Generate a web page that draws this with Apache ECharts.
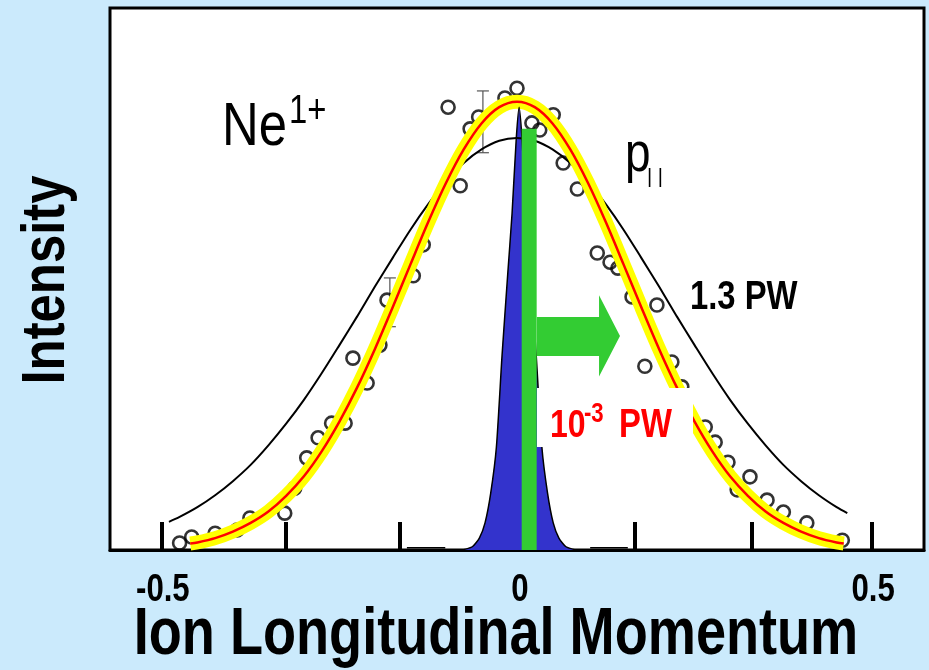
<!DOCTYPE html>
<html>
<head>
<meta charset="utf-8">
<script src="https://cdn.jsdelivr.net/npm/echarts@6/dist/echarts.min.js"></script>
<style>
  html, body { margin: 0; padding: 0; background: #cbeafc; }
  #chart { width: 929px; height: 670px; }
</style>
</head>
<body>
<div id="chart"></div>
<script>
// 1.3 PW curve (thin black)
const highX = [-0.49, -0.475, -0.45, -0.425, -0.4, -0.375, -0.35, -0.325, -0.3, -0.275, -0.25, -0.225, -0.2, -0.175, -0.15, -0.125, -0.1, -0.075, -0.05, -0.025, 0,
  0.025, 0.05, 0.075, 0.1, 0.125, 0.15, 0.175, 0.2, 0.225, 0.25, 0.275, 0.3, 0.325, 0.35, 0.375, 0.4, 0.425, 0.45, 0.465]
const highY = [0.052, 0.061, 0.079, 0.101, 0.127, 0.157, 0.193, 0.233, 0.277, 0.326, 0.378, 0.431, 0.486, 0.539, 0.591, 0.638, 0.680, 0.714, 0.739, 0.755, 0.760,
  0.755, 0.739, 0.714, 0.680, 0.638, 0.591, 0.539, 0.486, 0.431, 0.378, 0.326, 0.277, 0.233, 0.193, 0.157, 0.127, 0.101, 0.079, 0.068]

// 10^-3 PW curve (yellow band with red line)
const lowX = [-0.46, -0.45, -0.425, -0.4, -0.375, -0.35, -0.325, -0.3, -0.275, -0.25, -0.225, -0.2, -0.175, -0.15, -0.125, -0.1, -0.075, -0.05, -0.025, 0,
  0.025, 0.05, 0.075, 0.1, 0.125, 0.15, 0.175, 0.2, 0.225, 0.25, 0.275, 0.3, 0.325, 0.35, 0.375, 0.4, 0.425, 0.45, 0.46]
const lowY = [0.012, 0.014, 0.022, 0.034, 0.050, 0.071, 0.100, 0.136, 0.182, 0.237, 0.300, 0.371, 0.448, 0.527, 0.605, 0.677, 0.739, 0.787, 0.817, 0.827,
  0.817, 0.787, 0.739, 0.677, 0.605, 0.527, 0.448, 0.371, 0.300, 0.237, 0.182, 0.136, 0.100, 0.071, 0.050, 0.034, 0.022, 0.014, 0.012]

// narrow blue peak
const peakX = [-0.077, -0.063, -0.053, -0.045, -0.037, -0.029, -0.021, -0.013, -0.007, -0.001, 0.003, 0.007, 0.013, 0.019, 0.027, 0.035, 0.043, 0.051, 0.059, 0.069, 0.083]
const peakY = [0, 0.006, 0.022, 0.05, 0.105, 0.19, 0.36, 0.51, 0.62, 0.76, 0.817, 0.76, 0.62, 0.51, 0.36, 0.19, 0.105, 0.05, 0.022, 0.006, 0]

// measured points (open circles)
const dotX = [-0.475, -0.458, -0.425, -0.394, -0.376, -0.327, -0.313, -0.296, -0.280, -0.261, -0.242, -0.231, -0.211, -0.193, -0.183, -0.146, -0.132,
  -0.097, -0.080, -0.066, -0.054, -0.017, 0.000, 0.021, 0.032, 0.051, 0.065, 0.085, 0.113, 0.131, 0.142, 0.162, 0.180, 0.197, 0.218,
  0.232, 0.265, 0.279, 0.297, 0.310, 0.328, 0.352, 0.375, 0.408, 0.458]
const dotY = [0.013, 0.024, 0.031, 0.037, 0.059, 0.068, 0.114, 0.170, 0.207, 0.234, 0.234, 0.354, 0.308, 0.378, 0.461, 0.506, 0.563,
  0.817, 0.672, 0.777, 0.799, 0.834, 0.852, 0.788, 0.775, 0.803, 0.714, 0.666, 0.548, 0.531, 0.520, 0.467, 0.339, 0.452, 0.347,
  0.301, 0.227, 0.199, 0.162, 0.111, 0.135, 0.092, 0.070, 0.050, 0.018]

// error bars
const errX = [-0.048, -0.179]
const errLow = [0.733, 0.412]
const errHigh = [0.847, 0.502]

// short baseline pieces
const baseFrom = [-0.155, 0.103]
const baseTo = [-0.101, 0.156]

// green bar and arrow (data units)
const barX = [0.0066, 0.0277]
const barTop = 0.777
const arrowX = [0.028, 0.1155, 0.1155, 0.145, 0.1155, 0.1155, 0.028]
const arrowY = [0.430, 0.430, 0.470, 0.395, 0.320, 0.358, 0.358]

const tickValues = [-0.5, -0.325, -0.165, 0, 0.166, 0.33, 0.5]
const labelValues = [-0.5, 0, 0.5]
const tickLabels = ['-0.5', '0', '0.5']

const FONT = '"Liberation Sans", Arial, sans-serif'
const NARROW = 0.82 // the original lettering is a condensed face

const zip = (xs, ys) => xs.map((x, i) => [x, ys[i]])

function label(text, x, y, size, bold, fill, align, rotation) {
  return {
    type: 'text', z: 60, x: x, y: y, scaleX: NARROW, rotation: rotation || 0,
    style: {
      text: text,
      fontFamily: FONT,
      fontSize: size,
      fontWeight: bold ? 'bold' : 'normal',
      fill: fill || '#000',
      align: align || 'left',
      verticalAlign: 'middle'
    }
  }
}

const chart = echarts.init(document.getElementById('chart'))

chart.setOption({
  backgroundColor: '#cbeafc',
  animation: false,
  grid: {
    left: 110, right: 5, top: 8, bottom: 120,
    show: true,
    backgroundColor: '#fff',
    borderColor: '#000',
    borderWidth: 3
  },
  xAxis: {
    type: 'value',
    min: -0.573,
    max: 0.573,
    splitLine: { show: false },
    axisLine: { show: true, lineStyle: { color: '#000', width: 3 } },
    axisTick: {
      show: true, inside: true, length: 28,
      customValues: tickValues,
      lineStyle: { color: '#000', width: 4 }
    },
    axisLabel: { show: false }
  },
  yAxis: {
    type: 'value',
    min: 0,
    max: 1,
    show: false
  },
  series: [
    {
      name: '1.3 PW',
      type: 'line',
      data: zip(highX, highY),
      smooth: 0.3,
      symbol: 'none',
      lineStyle: { color: '#000', width: 2 }
    },
    {
      name: 'data',
      type: 'scatter',
      data: zip(dotX, dotY),
      symbol: 'circle',
      symbolSize: 13,
      itemStyle: { color: 'rgba(0,0,0,0)', borderColor: '#000', borderWidth: 2.6 }
    },
    {
      name: 'errors',
      type: 'custom',
      data: errX.map((x, i) => [x, errLow[i], errHigh[i]]),
      renderItem(params, api) {
        const lo = api.coord([api.value(0), api.value(1)])
        const hi = api.coord([api.value(0), api.value(2)])
        const st = { stroke: '#555', lineWidth: 1.2 }
        return {
          type: 'group',
          children: [
            { type: 'line', shape: { x1: lo[0], y1: lo[1], x2: hi[0], y2: hi[1] }, style: st },
            { type: 'line', shape: { x1: lo[0] - 6, y1: lo[1], x2: lo[0] + 6, y2: lo[1] }, style: st },
            { type: 'line', shape: { x1: hi[0] - 6, y1: hi[1], x2: hi[0] + 6, y2: hi[1] }, style: st }
          ]
        }
      }
    },
    {
      name: '10-3 PW band',
      type: 'line',
      data: zip(lowX, lowY),
      smooth: 0.3,
      symbol: 'none',
      lineStyle: { color: '#ffff00', width: 14 }
    },
    {
      name: '10-3 PW',
      type: 'line',
      data: zip(lowX, lowY),
      smooth: 0.3,
      symbol: 'none',
      lineStyle: { color: '#ff0000', width: 2.5 }
    },
    {
      name: 'peak',
      type: 'line',
      data: zip(peakX, peakY),
      smooth: 0.2,
      symbol: 'none',
      lineStyle: { color: '#000', width: 1.5 },
      areaStyle: { color: '#3333cc', opacity: 1 }
    },
    {
      name: 'baseline',
      type: 'custom',
      data: baseFrom.map((x, i) => [x, baseTo[i]]),
      renderItem(params, api) {
        const a = api.coord([api.value(0), 0.004])
        const b = api.coord([api.value(1), 0.004])
        return { type: 'line', shape: { x1: a[0], y1: a[1], x2: b[0], y2: b[1] }, style: { stroke: '#000', lineWidth: 1.5 } }
      }
    },
    {
      name: 'shift',
      type: 'custom',
      data: [[0]],
      z: 5,
      renderItem(params, api) {
        const p0 = api.coord([barX[0], barTop])
        const p1 = api.coord([barX[1], 0])
        const pts = arrowX.map((x, i) => api.coord([x, arrowY[i]]))
        return {
          type: 'group',
          children: [
            { type: 'rect', shape: { x: p0[0], y: p0[1], width: p1[0] - p0[0], height: p1[1] - p0[1] }, style: { fill: '#33cc33' } },
            { type: 'polygon', shape: { points: pts }, style: { fill: '#33cc33' } }
          ]
        }
      }
    }
  ],
  graphic: [
    { type: 'rect', z: 50, shape: { x: 537, y: 388, width: 156, height: 59 }, style: { fill: '#fff' } },
    label('Ne', 222, 128, 62),
    label('1+', 289, 112, 40),
    label('p', 625, 156, 56),
    Object.assign(label('| |', 647, 177, 20), { scaleX: 1 }),
    label('1.3 PW', 690, 298, 40, true),
    label('10', 550, 426, 39, true, '#ff0000'),
    label('-3', 584, 415, 27, true, '#ff0000'),
    label('PW', 619, 426, 40, true, '#ff0000'),
    label('Intensity', 47, 280, 62, true, '#000', 'center', Math.PI / 2),
    label('Ion Longitudinal Momentum', 496, 636, 66, true, '#000', 'center')
  ]
})

// tick labels in the same condensed lettering, placed from the x axis scale
const tickGraphics = labelValues.map((v, i) => {
  const px = chart.convertToPixel({ xAxisIndex: 0 }, v)
  const g = label(tickLabels[i], px + (v === 0 ? 3 : 1), 591, 38, true, '#000', 'center')
  g.id = 'tick' + i
  return g
})
chart.setOption({ graphic: tickGraphics })
</script>
</body>
</html>
